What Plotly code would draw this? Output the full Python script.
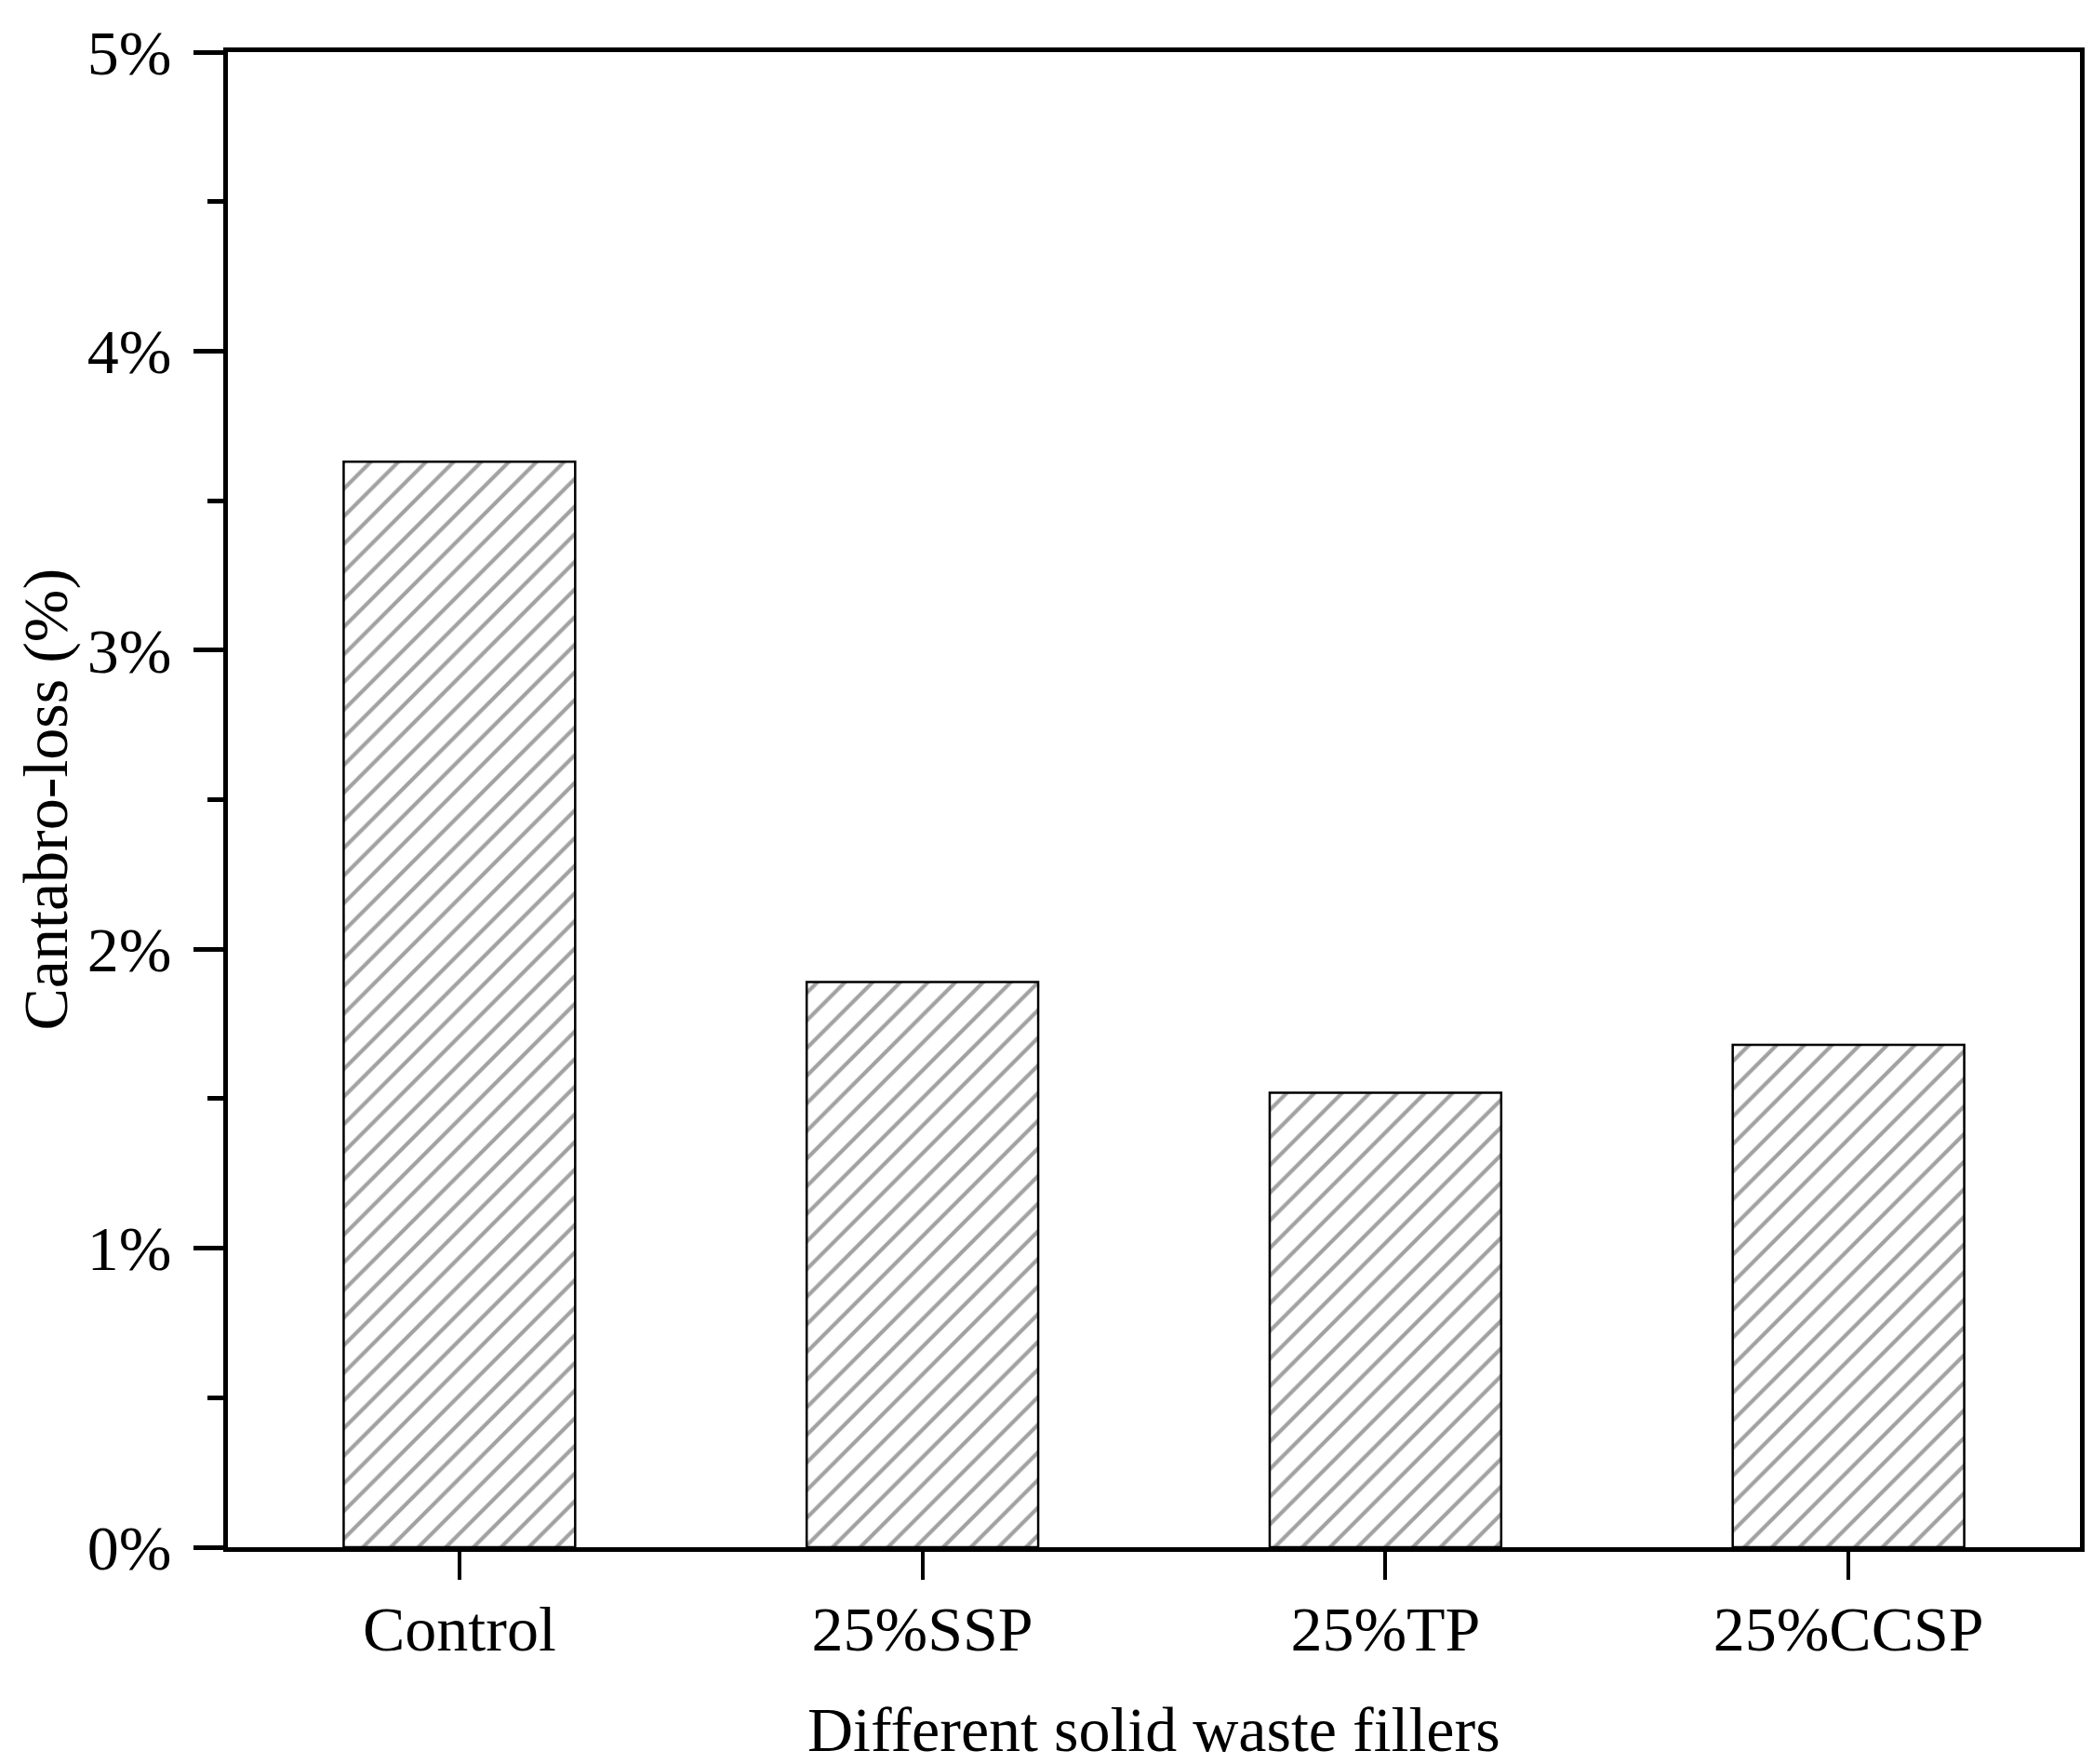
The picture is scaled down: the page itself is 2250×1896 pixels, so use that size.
import plotly.graph_objects as go

categories = ["Control", "25%SSP", "25%TP", "25%CCSP"]
cantabro_loss = [3.63, 1.89, 1.52, 1.68]
y_tick_values = [0, 1, 2, 3, 4, 5]
y_tick_labels = ["0%", "1%", "2%", "3%", "4%", "5%"]

FONT = "Liberation Serif, Times New Roman, serif"

fig = go.Figure()
fig.add_trace(go.Bar(
    x=categories,
    y=cantabro_loss,
    width=0.5,
    marker=dict(
        color="white",
        line=dict(color="black", width=2.5),
        pattern=dict(shape="/", fgcolor="#444444", bgcolor="white", size=21, solidity=0.2),
    ),
    showlegend=False,
))

fig.update_layout(
    width=2250,
    height=1896,
    margin=dict(l=237, r=22, t=48, b=241, autoexpand=False),
    paper_bgcolor="white",
    plot_bgcolor="white",
    font=dict(family=FONT, size=68, color="black"),
    xaxis=dict(
        range=[-0.5, 3.5],
        automargin=False,
        showline=True, linecolor="black", linewidth=5, mirror=True,
        ticks="outside", ticklen=30, tickwidth=4, tickcolor="black",
        ticklabelstandoff=-6,
        showgrid=False, zeroline=False,
        tickfont=dict(family=FONT, size=68, color="black"),
    ),
    yaxis=dict(
        range=[0, 5],
        automargin=False,
        tickvals=y_tick_values, ticktext=y_tick_labels,
        showline=True, linecolor="black", linewidth=5, mirror=True,
        ticks="outside", ticklen=32, tickwidth=5, tickcolor="black",
        ticklabelstandoff=10,
        minor=dict(dtick=0.5, ticks="outside", ticklen=17, tickwidth=5, tickcolor="black", showgrid=False),
        showgrid=False, zeroline=False,
        tickfont=dict(family=FONT, size=68, color="black"),
    ),
    annotations=[
        dict(
            text="Cantabro-loss (%)", textangle=-90,
            xref="paper", yref="paper", x=0, y=0.5, xshift=-197,
            xanchor="center", yanchor="middle", showarrow=False,
            font=dict(family=FONT, size=68, color="black"),
        ),
        dict(
            text="Different solid waste fillers",
            xref="paper", yref="paper", x=0.5, y=0, yshift=-196,
            xanchor="center", yanchor="middle", showarrow=False,
            font=dict(family=FONT, size=68, color="black"),
        ),
    ],
)

fig.write_html("out.html")
